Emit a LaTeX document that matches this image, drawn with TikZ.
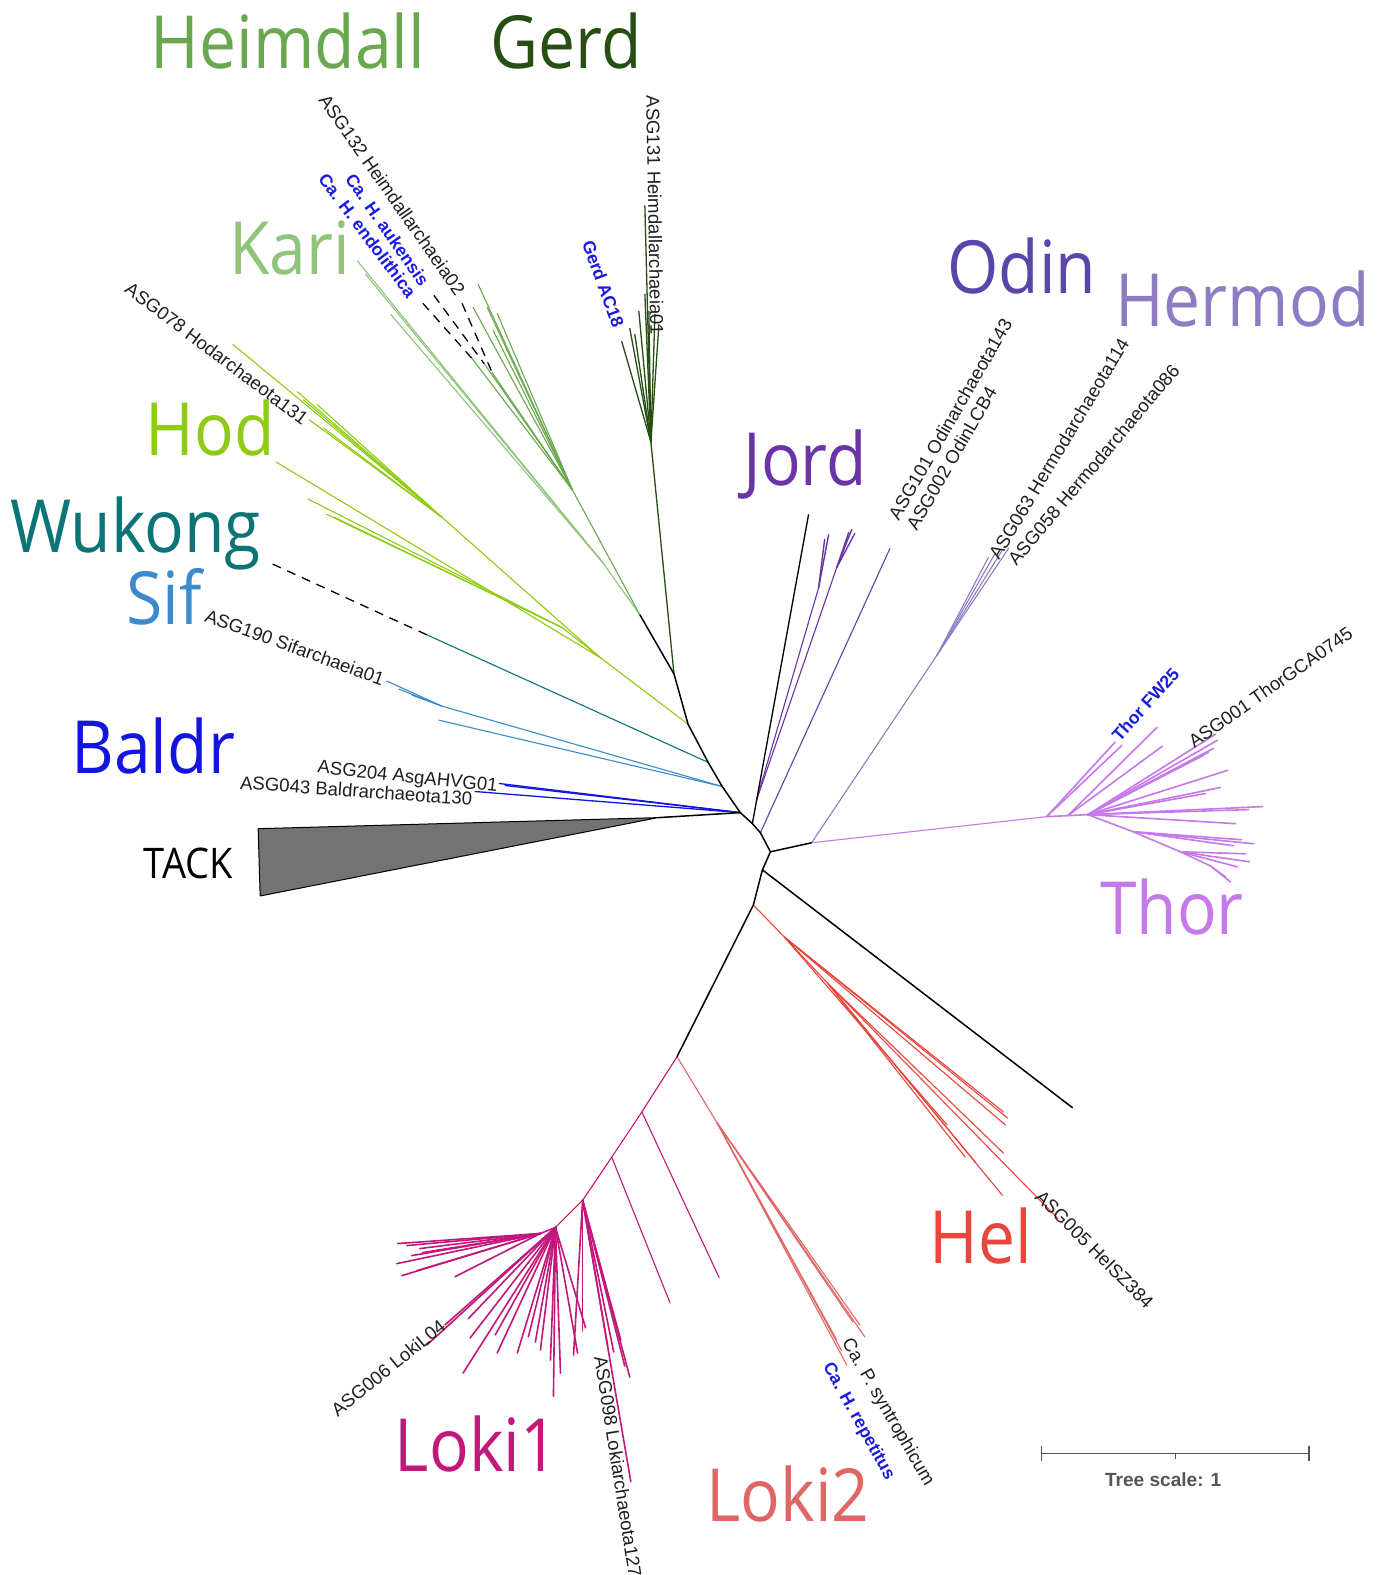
\documentclass[tikz,border=0pt]{standalone}
\usepackage{fontspec}
\setmainfont{Liberation Sans}
\newfontfamily\cladefont[FakeStretch=0.9]{Open Sans}
\definecolor{cHeim}{HTML}{6AA84F}
\definecolor{cGerd}{HTML}{274E13}
\definecolor{cKari}{HTML}{8FC47A}
\definecolor{cOdin}{HTML}{5B45A8}
\definecolor{cHerm}{HTML}{8E7CC3}
\definecolor{cJord}{HTML}{6A33A6}
\definecolor{cHod}{HTML}{8FCB14}
\definecolor{cWuk}{HTML}{0B7476}
\definecolor{cSif}{HTML}{3A8ACD}
\definecolor{cBal}{HTML}{1414E0}
\definecolor{cThor}{HTML}{C679E8}
\definecolor{cHel}{HTML}{E8453C}
\definecolor{cLkA}{HTML}{C2177B}
\definecolor{cLkB}{HTML}{E06666}
\definecolor{cLab}{HTML}{1A1AE0}
\definecolor{cScale}{HTML}{555555}
\newcommand\mkfan[3]{\foreach \tx/\ty in {#3}{\coordinate (tip) at (\tx,\ty); \draw[#1] (#2) -- (tip);}}
\tikzset{
  br/.style={line width=1.1pt, line cap=round},
  thick br/.style={line width=1.6pt, line cap=round},
  bb/.style={line width=1.5pt, black, line join=round},
  leaflab/.style={font=\fontsize{18.5}{20}\selectfont, inner sep=0pt, anchor=west, text=black!88},
  bluelab/.style={font=\bfseries\fontsize{17.5}{19}\selectfont, inner sep=0pt, anchor=west, text=cLab},
  clade/.style={font=\cladefont\fontsize{73}{80}\selectfont, inner sep=0pt, anchor=base west},
  dashlink/.style={line width=1.3pt, black, dash pattern=on 9pt off 7pt},
}
\begin{document}
\begin{tikzpicture}[x=1pt,y=-1pt]
\useasboundingbox (0,0) rectangle (1383,1568);
\fill[white] (0,0) rectangle (1383,1568);

% ---------- backbone coordinates ----------
\coordinate (R0) at (767,848);
\coordinate (T0) at (808,839);
\coordinate (LW) at (759,866);
\coordinate (HEL) at (750,901);
\coordinate (LOK) at (674,1052);
\coordinate (ODB) at (757,829);
\coordinate (J) at (749,820);
\coordinate (L) at (737,809);
\coordinate (SIF) at (719,783);
\coordinate (WUK) at (705,759);
\coordinate (HODn) at (685,721);
\coordinate (GER) at (671,671);
\coordinate (HK) at (637,612);
\coordinate (JT) at (805,512);
\coordinate (LB) at (1068,1103);
\coordinate (TA) at (655,814);

% ---------- Heimdall / Kari ----------
\coordinate (K1) at (600,560);
\coordinate (H1) at (570,488);
\draw[br,cKari] (HK) -- (K1);
\mkfan{br,cKari}{K1}{356/260,364/273,389/313}
\draw[br,cHeim] (HK) -- (H1);
\mkfan{br,cHeim}{H1}{476/283,471/306,485/306,495/312,491/329,490/371,482/362,470/357}
\coordinate (dA) at (460,302);
\coordinate (dB) at (432,294);
\coordinate (dC) at (421,302);
\coordinate (eA) at (490,371);
\coordinate (eB) at (482,362);
\coordinate (eC) at (470,357);
\draw[dashlink] (dA) -- (eA);
\draw[dashlink] (dB) -- (eB);
\draw[dashlink] (dC) -- (eC);

% ---------- Gerd ----------
\coordinate (G1) at (648,440);
\draw[br,cGerd,line width=1.3pt] (GER) -- (G1);
\mkfan{br,cGerd,line width=1.3pt}{G1}{642/205,642/293,646/310,636/310,627/327,619/340,632/333,652/313,656/323}

% ---------- Hod ----------
\coordinate (HR) at (598,655);
\coordinate (h1) at (440,515);
\coordinate (h2) at (560,625);
\draw[br,cHod] (HODn) -- (HR);
\draw[br,cHod] (HR) -- (h1);
\draw[br,cHod] (HR) -- (h2);
\mkfan{br,cHod}{h1}{232/343,296/390,302/398,316/403,308/418,322/426}
\mkfan{br,cHod}{HR}{275/460}
\mkfan{br,cHod}{h2}{307/497,325/512,333/515}

% ---------- Wukong ----------
\coordinate (WK) at (425,632);
\coordinate (WKd) at (268,560);
\draw[br,cWuk] (WUK) -- (WK);
\draw[dashlink] (WK) -- (WKd);

% ---------- Sif ----------
\coordinate (S1) at (440,703);
\draw[br,cSif] (SIF) -- (S1);
\mkfan{br,cSif}{S1}{385/678,397/686,410/692}
\mkfan{br,cSif}{SIF}{437/717}

% ---------- Baldr ----------
\mkfan{br,cBal,line width=1.3pt}{L}{497/780,503/782,473/788}

% ---------- TACK ----------
\draw[bb] (L) -- (TA);
\filldraw[fill=black!55, draw=black, line width=1pt, line join=round] (TA) -- (257,825) -- (259,892) -- cycle;

% ---------- Jord / Odin ----------
\coordinate (JP) at (753,797);
\coordinate (j1) at (815,585);
\coordinate (j2) at (833,565);
\draw[br,cJord] (JP) -- (j1);
\draw[br,cJord] (JP) -- (j2);
\mkfan{br,cJord,line width=1.4pt}{j1}{821/537,825/532}
\mkfan{br,cJord,line width=1.4pt}{j2}{845/530,848/527,851/531}
\coordinate (OD) at (886,546);
\draw[br,cOdin] (ODB) -- (OD);

% ---------- Hermod ----------
\coordinate (HM) at (933,652);
\draw[br,cHerm] (T0) -- (HM);
\mkfan{br,cHerm}{HM}{984/555,990/552,997/549,1004/546}

% ---------- Thor ----------
\coordinate (TH) at (1042,813);
\coordinate (TH2) at (1063,812);
\coordinate (TH3) at (1083,811);
\coordinate (TH4) at (1128,828);
\coordinate (TH5) at (1175,848);
\coordinate (TH6) at (1205,862);
\draw[br,cThor] (T0) -- (TH);
\draw[thick br,cThor] (TH) -- (TH2) -- (TH3);
\draw[thick br,cThor] (TH3) -- (TH4) -- (TH5) -- (TH6);
\mkfan{thick br,cThor}{TH}{1110/739,1117/742}
\mkfan{thick br,cThor}{TH2}{1152/724,1157/743}
\mkfan{thick br,cThor}{TH3}{1210/731,1212/737,1208/745,1203/749,1198/752,1222/767,1215/784,1200/790,1257/803,1243/806,1230/820}
\mkfan{thick br,cThor}{TH4}{1236/836,1248/840,1228/842}
\mkfan{thick br,cThor}{TH5}{1240/850,1244/858,1232/863}
\mkfan{thick br,cThor}{TH6}{1225/878,1220/873}

% ---------- Hel ----------
\coordinate (HE1) at (781,933);
\coordinate (HE2) at (824,979);
\draw[br,cHel] (HEL) -- (HE1);
\mkfan{br,cHel}{HE1}{1003/1113,1001/1120,999/1107,943/1120}
\draw[br,cHel] (HE1) -- (HE2);
\mkfan{br,cHel}{HE2}{999/1148,998/1190,961/1152,971/1157,1053/1213}

% ---------- Loki 2 ----------
\coordinate (L2a) at (714,1118);
\draw[br,cLkB] (LOK) -- (L2a);
\mkfan{br,cLkB}{L2a}{861/1331,856/1319,849/1316,833/1334,843/1359,838/1345}

% ---------- Loki 1 ----------
\coordinate (La) at (639,1107);
\coordinate (Lb) at (609,1152);
\coordinate (Lc) at (580,1195);
\coordinate (Ld) at (553,1222);
\coordinate (Lh) at (538,1228);
\draw[br,cLkA,line join=round] (LOK) -- (La) -- (Lb) -- (Lc) -- (Ld);
\mkfan{br,cLkA}{La}{716/1272}
\mkfan{br,cLkA}{Lb}{667/1297}
\mkfan{thick br,cLkA}{Lc}{580/1325,571/1349,627/1371,618/1334,611/1346,628/1475,622/1360,605/1340}
\draw[thick br,cLkA] (Ld) -- (Lh);
\mkfan{thick br,cLkA}{Lh}{396/1238,418/1243,421/1247,395/1258,400/1270,415/1265,453/1271,405/1240,410/1250}
\mkfan{thick br,cLkA}{Ld}{425/1339,443/1319,466/1313,468/1332,461/1367,493/1329,495/1347,515/1347,526/1331,533/1336,538/1344,548/1354,551/1390,558/1367,575/1347,583/1322}

% ---------- backbone ----------
\draw[bb] (HK) -- (GER) -- (HODn) -- (WUK) -- (SIF) -- (L) -- (J) -- (ODB) -- (R0) -- (LW) -- (HEL) -- (LOK);
\draw[bb] (R0) -- (T0);
\draw[bb] (LW) -- (LB);
\draw[bb,line width=1.3pt] (J) -- (JT);

% ---------- leaf labels ----------
\node[leaflab, rotate=-55] (lb1) at (322,96) {ASG132 Heimdallarchaeia02};
\node[bluelab, rotate=-55] (lb2) at (348,175) {Ca. H. aukensis};
\node[bluelab, rotate=-53] (lb3) at (321,175) {Ca. H. endolithica};
\node[leaflab, rotate=-89] (lb4) at (650,95) {ASG131 Heimdallarchaeia01};
\node[bluelab, rotate=-70] (lb5) at (585,240) {Gerd AC18};
\node[leaflab, rotate=-37] (lb6) at (127,285) {ASG078 Hodarchaeota131};
\node[leaflab, rotate=-20] (lb7) at (205,612) {ASG190 Sifarchaeia01};
\node[leaflab, rotate=-6] (lb8) at (316,765) {ASG204 AsgAHVG01};
\node[leaflab, rotate=-4] (lb9) at (239,779) {ASG043 Baldrarchaeota130};
\node[leaflab, rotate=60] (lb10) at (889,516) {ASG101 Odinarchaeota143};
\node[leaflab, rotate=60] (lb11) at (907,526) {ASG002 OdinLCB4};
\node[leaflab, rotate=59] (lb12) at (989,555) {ASG063 Hermodarchaeota114};
\node[leaflab, rotate=50] (lb13) at (1007,560) {ASG058 Hermodarchaeota086};
\node[bluelab, rotate=48] (lb14) at (1110,735) {Thor FW25};
\node[leaflab, rotate=35] (lb15) at (1185,740) {ASG001 ThorGCA0745};
\node[leaflab, rotate=-45] (lb16) at (1034,1188) {ASG005 HelSZ384};
\node[leaflab, rotate=-60] (lb17) at (842,1334) {Ca. P. syntrophicum};
\node[bluelab, rotate=-61] (lb18) at (823,1358) {Ca. H. repetitus};
\node[leaflab, rotate=39] (lb19) at (332,1406) {ASG006 LokiL04};
\node[leaflab, rotate=-81] (lb20) at (598,1350) {ASG098 Lokiarchaeota127};

% ---------- clade labels ----------
\node[clade, text=cHeim] (cl1) at (150,68) {Heimdall};
\node[clade, text=cGerd] (cl2) at (488,68) {Gerd};
\node[clade, text=cKari] (cl3) at (228,273) {Kari};
\node[clade, text=cOdin] (cl4) at (943,292) {Odin};
\node[clade, text=cHerm] (cl5) at (1110,325) {Hermod};
\node[clade, text=cJord] (cl6) at (740,483) {Jord};
\node[clade, text=cHod] (cl7) at (145,453) {Hod};
\node[clade, text=cWuk] (cl8) at (10,550) {Wukong};
\node[clade, text=cSif] (cl9) at (126,622) {Sif};
\node[clade, text=cBal] (cl10) at (71,770) {Baldr};
\node[clade, text=black, font=\cladefont\fontsize{42}{46}\selectfont] (cl11) at (143,875) {TACK};
\node[clade, text=cThor] (cl12) at (1095,930) {Thor};
\node[clade, text=cHel] (cl13) at (925,1258) {Hel};
\node[clade, text=cLkA] (cl14) at (393,1465) {Loki1};
\node[clade, text=cLkB] (cl15) at (703,1515) {Loki2};

% ---------- tree scale ----------
\coordinate (sc1) at (1037,1447);
\coordinate (sc2) at (1303,1447);
\coordinate (scm) at (1170,1447);
\draw[cScale, line width=1.6pt] (sc1) -- (sc2);
\draw[cScale, line width=1.6pt] ([yshift=-7pt]sc1) -- ([yshift=7pt]sc1);
\draw[cScale, line width=1.6pt] ([yshift=-7pt]sc2) -- ([yshift=7pt]sc2);
\draw[cScale, line width=1.2pt] (scm) -- ([yshift=-5pt]scm);
\node[font=\bfseries\fontsize{19}{21}\selectfont, text=cScale, inner sep=0pt, anchor=base] (sct) at (1158,1480) {Tree scale: 1};
\end{tikzpicture}
\end{document}
